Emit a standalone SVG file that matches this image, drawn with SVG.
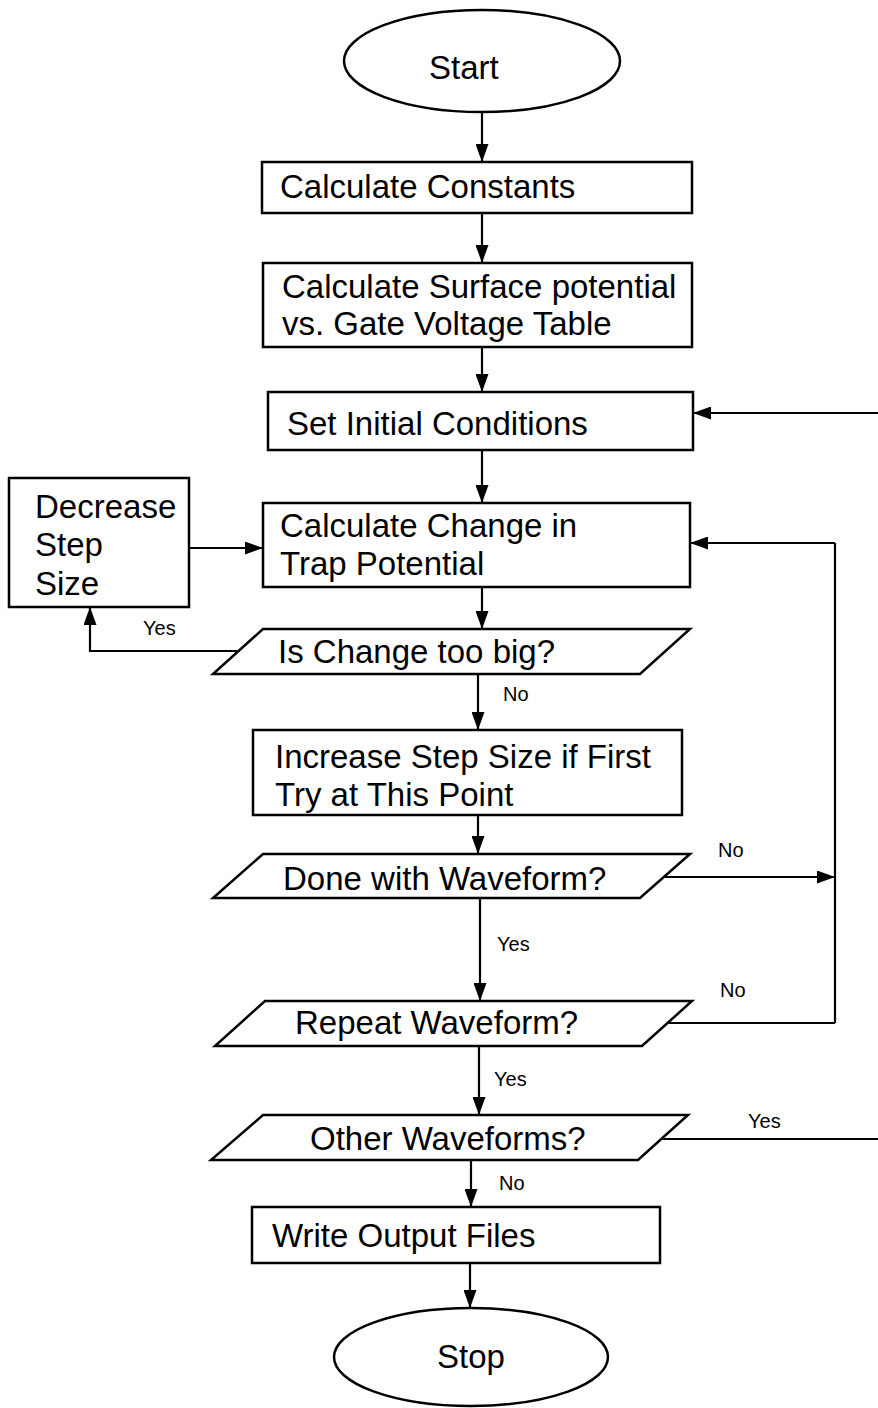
<svg xmlns="http://www.w3.org/2000/svg" width="878" height="1408" viewBox="0 0 878 1408">
<defs>
<marker id="ah" viewBox="0 0 18 13" refX="18" refY="6.5" markerWidth="18" markerHeight="13" markerUnits="userSpaceOnUse" orient="auto">
<path d="M0,0 L18,6.5 L0,13 Z" fill="#000"/>
</marker>
<style>
.shape{fill:#fff;stroke:#000;stroke-width:2.5}
.t{font-family:"Liberation Sans",Arial,sans-serif;font-size:33px;fill:#000}
.s{font-family:"Liberation Sans",Arial,sans-serif;font-size:20px;fill:#000}
.c{fill:none;stroke:#000;stroke-width:2.2}
.a{marker-end:url(#ah)}
</style>
</defs>
<rect width="878" height="1408" fill="#fff"/>
<g id="connectors">
<line class="c a" x1="482" y1="112" x2="482" y2="162"/>
<line class="c a" x1="482" y1="213" x2="482" y2="263"/>
<line class="c a" x1="482" y1="347" x2="482" y2="392"/>
<line class="c a" x1="482" y1="450" x2="482" y2="503"/>
<line class="c a" x1="878" y1="413" x2="693" y2="413"/>
<line class="c a" x1="189" y1="548" x2="263" y2="548"/>
<line class="c a" x1="835" y1="543" x2="690" y2="543"/>
<line class="c" x1="835" y1="543" x2="835" y2="1023"/>
<line class="c a" x1="482" y1="587" x2="482" y2="629"/>
<polyline class="c a" points="237,651 90,651 90,607"/>
<line class="c a" x1="478" y1="674" x2="478" y2="730"/>
<line class="c a" x1="478" y1="815" x2="478" y2="854"/>
<line class="c a" x1="665" y1="877" x2="835" y2="877"/>
<line class="c a" x1="480" y1="898" x2="480" y2="1001"/>
<line class="c" x1="669" y1="1023" x2="835" y2="1023"/>
<line class="c a" x1="479" y1="1046" x2="479" y2="1115"/>
<line class="c" x1="660" y1="1139" x2="878" y2="1139"/>
<line class="c a" x1="471" y1="1160" x2="471" y2="1207"/>
<line class="c a" x1="470" y1="1263" x2="470" y2="1308"/>
<text class="s" x="143" y="635">Yes</text>
<text class="s" x="503" y="701">No</text>
<text class="s" x="718" y="857">No</text>
<text class="s" x="497" y="951">Yes</text>
<text class="s" x="720" y="997">No</text>
<text class="s" x="494" y="1086">Yes</text>
<text class="s" x="748" y="1128">Yes</text>
<text class="s" x="499" y="1190">No</text>
</g>
<g id="start">
<ellipse class="shape" cx="482" cy="61" rx="138" ry="51"/>
<text class="t" x="429" y="79">Start</text>
</g>
<g id="calc-constants">
<rect class="shape" x="262" y="162" width="430" height="51"/>
<text class="t" x="280" y="198">Calculate Constants</text>
</g>
<g id="calc-surface">
<rect class="shape" x="263" y="263" width="429" height="84"/>
<text class="t" x="282" y="298">Calculate Surface potential</text>
<text class="t" x="282" y="335">vs. Gate Voltage Table</text>
</g>
<g id="set-initial">
<rect class="shape" x="268" y="392" width="425" height="58"/>
<text class="t" x="287" y="435">Set Initial Conditions</text>
</g>
<g id="decrease">
<rect class="shape" x="9" y="478" width="180" height="129"/>
<text class="t" x="35" y="518">Decrease</text>
<text class="t" x="35" y="556">Step</text>
<text class="t" x="35" y="595">Size</text>
</g>
<g id="calc-change">
<rect class="shape" x="263" y="503" width="427" height="84"/>
<text class="t" x="280" y="537">Calculate Change in</text>
<text class="t" x="280" y="575">Trap Potential</text>
</g>
<g id="is-change">
<polygon class="shape" points="263,629 690,629 640,674 213,674"/>
<text class="t" x="278" y="663">Is Change too big?</text>
</g>
<g id="increase">
<rect class="shape" x="253" y="730" width="429" height="85"/>
<text class="t" x="275" y="768">Increase Step Size if First</text>
<text class="t" x="275" y="806">Try at This Point</text>
</g>
<g id="done">
<polygon class="shape" points="263,854 690,854 640,898 213,898"/>
<text class="t" x="283" y="890">Done with Waveform?</text>
</g>
<g id="repeat">
<polygon class="shape" points="265,1001 692,1001 642,1046 215,1046"/>
<text class="t" x="295" y="1034">Repeat Waveform?</text>
</g>
<g id="other">
<polygon class="shape" points="263,1115 688,1115 638,1160 211,1160"/>
<text class="t" x="310" y="1150">Other Waveforms?</text>
</g>
<g id="write">
<rect class="shape" x="252" y="1207" width="408" height="56"/>
<text class="t" x="272" y="1247">Write Output Files</text>
</g>
<g id="stop">
<ellipse class="shape" cx="471" cy="1357" rx="137" ry="49"/>
<text class="t" x="437" y="1368">Stop</text>
</g>
</svg>
